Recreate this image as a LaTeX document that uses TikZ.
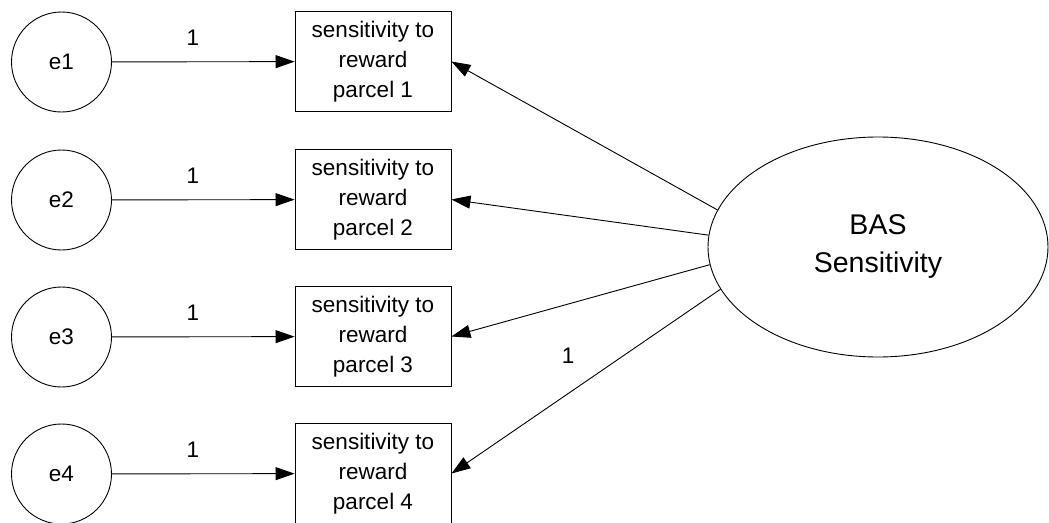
\documentclass[tikz,border=0pt]{standalone}
\usepackage{fontspec}
\setmainfont{Liberation Sans}
\usetikzlibrary{arrows.meta,shapes.geometric}
\begin{document}
\begin{tikzpicture}[x=1pt,y=-1pt,
  line width=0.9pt,
  errvar/.style={draw,circle,minimum size=100pt,inner sep=0pt,
    font=\fontsize{22.5}{30}\selectfont},
  indicator/.style={draw,rectangle,minimum width=156pt,minimum height=100pt,
    inner sep=0pt,align=center,font=\fontsize{22.5}{30}\selectfont},
  latent/.style={draw,ellipse,minimum width=340pt,minimum height=220pt,
    inner sep=0pt,align=center,font=\fontsize{28.5}{38}\selectfont},
  weight/.style={inner sep=0pt,font=\fontsize{22.5}{30}\selectfont},
  path/.style={-{Triangle[length=19pt,width=13pt]}}
]
\useasboundingbox (0,0) rectangle (1049,522);

% error terms and the four observed parcels
\foreach \i/\y in {1/62,2/200,3/337,4/474}{
  \node[errvar] (e\i) at (61.5,\y) {e\i};
  \node[indicator] (p\i) at (373,\y-0.5) {sensitivity to\\reward\\parcel \i};
  \draw[path] (e\i) -- (p\i);
  \node[weight] (w\i) at (193,\y-24) {1};
}

% latent factor
\node[latent] (bas) at (878,247) {BAS\\Sensitivity};

% factor loadings
\draw[path] (bas.167) -- (p1.east);
\draw[path] (bas.176.3) -- (p2.east);
\draw[path] (bas.186.7) -- (p3.east);
\draw[path] (bas.195.6) -- (p4.east);
\node[weight] (w5) at (568,356) {1};
\end{tikzpicture}
\end{document}
